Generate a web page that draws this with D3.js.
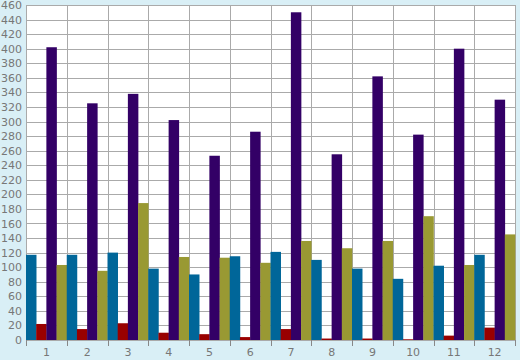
<!DOCTYPE html>
<html>
<head>
<meta charset="utf-8">
<script src="https://cdn.jsdelivr.net/npm/d3@7"></script>
<style>
  body { margin: 0; background: #d9eff6; }
  svg { display: block; }
  .tick text { font-family: "DejaVu Sans", Verdana, sans-serif; font-size: 11px; fill: #777; }
</style>
</head>
<body>
<svg id="chart" width="520" height="360"></svg>
<script>
var categories = ['1', '2', '3', '4', '5', '6', '7', '8', '9', '10', '11', '12']
var seriesNames = ['blue', 'red', 'purple', 'olive']
var blueValues = [117, 117, 120, 98, 90, 115, 121, 110, 98, 84, 102, 117]
var redValues = [22, 15, 23, 10, 8, 4, 15, 2, 2, 1, 6, 17]
var purpleValues = [402, 325, 338, 302, 253, 286, 450, 255, 362, 282, 400, 330]
var oliveValues = [103, 95, 188, 114, 113, 106, 136, 126, 136, 170, 103, 145]
var yTicks = d3.range(0, 461, 20)

var colors = ['#006699', '#990000', '#330066', '#999933']
var allSeries = [blueValues, redValues, purpleValues, oliveValues]

var svg = d3.select('#chart')
var plotLeft = 26, plotTop = 5, plotRight = 515, plotBottom = 340

var x = d3.scaleBand().domain(categories).range([plotLeft, plotRight]).padding(0)
var xs = d3.scaleBand().domain(seriesNames).range([0, x.bandwidth()]).padding(0)
var y = d3.scaleLinear().domain([0, 460]).range([plotBottom, plotTop])

svg.append('rect')
    .attr('x', plotLeft).attr('y', plotTop)
    .attr('width', plotRight - plotLeft).attr('height', plotBottom - plotTop)
    .attr('fill', '#fff')

// grid
svg.append('g').selectAll('line')
    .data(yTicks)
    .enter()
        .append('line')
        .attr('x1', plotLeft).attr('x2', plotRight)
        .attr('y1', function(d) { return Math.round(y(d)) + 0.5 })
        .attr('y2', function(d) { return Math.round(y(d)) + 0.5 })
        .attr('stroke', '#aaa')
svg.append('g').selectAll('line')
    .data(categories.concat(['end']))
    .enter()
        .append('line')
        .attr('x1', function(d, i) { return Math.round(plotLeft + i * x.bandwidth()) + 0.5 })
        .attr('x2', function(d, i) { return Math.round(plotLeft + i * x.bandwidth()) + 0.5 })
        .attr('y1', plotTop).attr('y2', plotBottom)
        .attr('stroke', '#aaa')

// bars
var rows = []
categories.forEach(function(c, i) {
    seriesNames.forEach(function(s, j) {
        rows.push({ cat: c, series: s, value: allSeries[j][i], color: colors[j] })
    })
})
svg.append('g').selectAll('rect')
    .data(rows)
    .enter()
        .append('rect')
        .attr('x', function(d) { return x(d.cat) + xs(d.series) })
        .attr('width', xs.bandwidth() + 0.3)
        .attr('y', function(d) { return y(d.value) })
        .attr('height', function(d) { return plotBottom - y(d.value) })
        .attr('fill', function(d) { return d.color })

// y axis
var yAxis = svg.append('g')
    .attr('transform', 'translate(' + plotLeft + ',0)')
    .call(d3.axisLeft(y).tickValues(yTicks).tickSize(0).tickPadding(4))
yAxis.select('.domain').remove()

// x axis
var xAxis = svg.append('g')
    .attr('transform', 'translate(0,' + plotBottom + ')')
    .call(d3.axisBottom(x).tickSize(0).tickPadding(8))
xAxis.select('.domain').remove()

svg.append('g').selectAll('line')
    .data(categories.concat(['end']))
    .enter()
        .append('line')
        .attr('x1', function(d, i) { return Math.round(plotLeft + i * x.bandwidth()) + 0.5 })
        .attr('x2', function(d, i) { return Math.round(plotLeft + i * x.bandwidth()) + 0.5 })
        .attr('y1', plotBottom).attr('y2', plotBottom + 6)
        .attr('stroke', '#888')
</script>
</body>
</html>
